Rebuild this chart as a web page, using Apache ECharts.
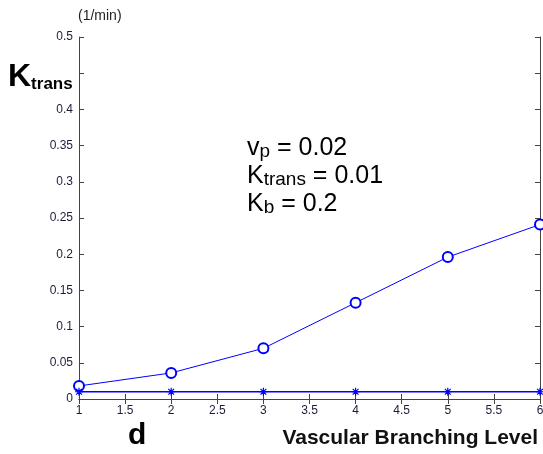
<!DOCTYPE html>
<html>
<head>
<meta charset="utf-8">
<script src="https://cdn.jsdelivr.net/npm/echarts@6/dist/echarts.min.js"></script>
<style>
  html, body { margin: 0; padding: 0; background: #fff; }
  #main { width: 543px; height: 454px; }
</style>
</head>
<body>
<div id="main"></div>
<script>
// 数据
var levels = [1, 2, 3, 4, 5, 6];
var ktransEst = [0.018, 0.036, 0.070, 0.133, 0.196, 0.241];
var ktransTrue = [0.01, 0.01, 0.01, 0.01, 0.01, 0.01];
var yTickLabels = ['0', '0.05', '0.1', '0.15', '0.2', '0.25', '0.3', '0.35', '0.4', '', '0.5'];

var myChart = echarts.init(document.getElementById('main'));
var font = 'Liberation Sans, Arial, sans-serif';
var axisCol = '#444';
var labelCol = '#1c1c3a';
var star = 'path://M0,-5L0,5M-5,0L5,0M-3.6,-3.6L3.6,3.6M-3.6,3.6L3.6,-3.6';

function pair(xs, ys) {
    return xs.map(function (x, i) { return [x, ys[i]]; });
}

var option = {
    animation: false,
    grid: { left: 79, right: 3, top: 37, bottom: 55, outerBoundsMode: 'none', containLabel: false },
    xAxis: [{
        type: 'value', min: 1, max: 6, interval: 0.5,
        axisLine: { lineStyle: { color: axisCol } },
        axisTick: { inside: true, length: 5, lineStyle: { color: axisCol } },
        axisLabel: { color: labelCol, fontFamily: font, fontSize: 12, margin: 6 },
        splitLine: { show: false }
    }, {
        type: 'value', min: 1, max: 6, interval: 0.5, position: 'top',
        axisLine: { show: true, lineStyle: { color: axisCol } },
        axisTick: { inside: true, length: 5, lineStyle: { color: axisCol } },
        axisLabel: { show: false },
        splitLine: { show: false }
    }],
    yAxis: [{
        type: 'value', min: 0, max: 0.5, interval: 0.05,
        axisLine: { show: true, lineStyle: { color: axisCol } },
        axisTick: { show: true, inside: true, length: 5, lineStyle: { color: axisCol } },
        axisLabel: {
            color: labelCol, fontFamily: font, fontSize: 12, margin: 6,
            formatter: function (v) { return yTickLabels[Math.round(v / 0.05)]; }
        },
        splitLine: { show: false }
    }, {
        type: 'value', min: 0, max: 0.5, interval: 0.05, position: 'right',
        axisLine: { show: true, lineStyle: { color: axisCol } },
        axisTick: { show: true, inside: true, length: 5, lineStyle: { color: axisCol } },
        axisLabel: { show: false },
        splitLine: { show: false }
    }],
    series: [{
        type: 'line',
        data: pair(levels, ktransEst),
        symbol: 'emptyCircle', symbolSize: 10,
        lineStyle: { color: '#0000ff', width: 1 },
        itemStyle: { color: '#0000ff', borderColor: '#0000ff', borderWidth: 1 }
    }, {
        type: 'line',
        data: pair(levels, ktransTrue),
        symbol: star, symbolSize: 8,
        lineStyle: { color: '#0000ff', width: 1.5 },
        itemStyle: { color: 'none', borderColor: '#0000ff', borderWidth: 1.2 }
    }],
    graphic: [{
        type: 'text', left: 78, top: 9,
        style: { text: '(1/min)', font: '14px ' + font, fill: '#222' }
    }, {
        type: 'text', left: 8, top: 61,
        style: {
            text: '{a|K}{b|trans}',
            rich: {
                a: { font: 'bold 32px ' + font, fill: '#000', verticalAlign: 'bottom' },
                b: { font: 'bold 17px ' + font, fill: '#000', verticalAlign: 'bottom' }
            }
        }
    }, {
        type: 'text', left: 128, top: 421,
        style: { text: 'd', font: 'bold 30px ' + font, fill: '#000' }
    }, {
        type: 'text', right: 5, top: 428,
        style: { text: 'Vascular Branching Level', font: 'bold 21px ' + font, fill: '#111' }
    }, {
        type: 'text', left: 247, top: 136,
        style: {
            text: '{s|v}{t|p}{s| = 0.02}\n{s|K}{t|trans}{s| = 0.01}\n{s|K}{t|b}{s| = 0.2}',
            rich: {
                s: { font: '25px ' + font, fill: '#000', lineHeight: 28, verticalAlign: 'bottom' },
                t: { font: '19px ' + font, fill: '#000', lineHeight: 28, verticalAlign: 'bottom' }
            }
        }
    }]
};

myChart.setOption(option);
</script>
</body>
</html>
